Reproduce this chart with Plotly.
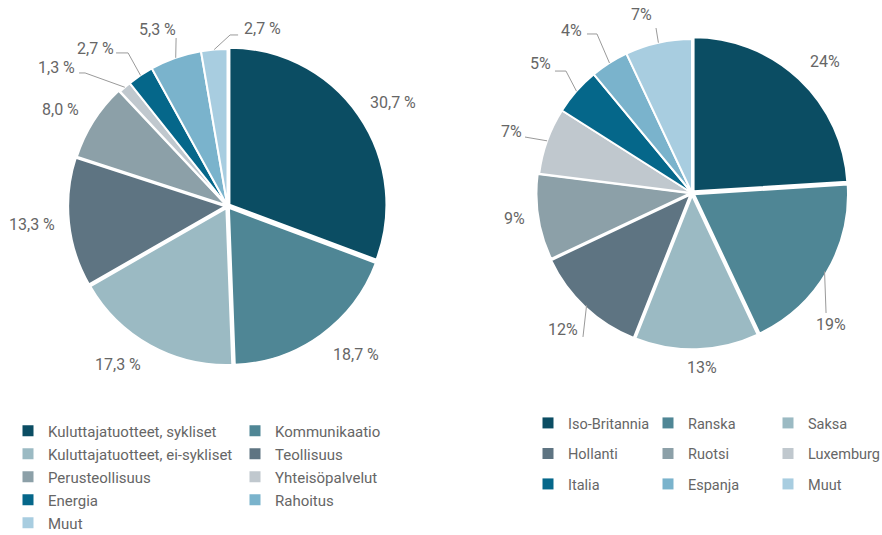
import math
import plotly.graph_objects as go

# ---------------- data ----------------
sectors = ["Kuluttajatuotteet, sykliset", "Kommunikaatio", "Kuluttajatuotteet, ei-sykliset",
           "Teollisuus", "Perusteollisuus", "Yhteisöpalvelut", "Energia", "Rahoitus", "Muut"]
sector_values = [30.7, 18.7, 17.3, 13.3, 8.0, 1.3, 2.7, 5.3, 2.7]

countries = ["Iso-Britannia", "Ranska", "Saksa", "Hollanti", "Ruotsi", "Luxemburg",
             "Italia", "Espanja", "Muut"]
country_values = [24, 19, 13, 12, 9, 7, 5, 4, 7]

colors = ["#0b4d63", "#4f8695", "#9bbac3", "#5e7482", "#8ca0a8", "#c0c8ce",
          "#05678a", "#7ab3cc", "#a8cde0"]

# ---------------- style / layout ----------------
W, H = 882, 535
FONT = "Roboto, Liberation Sans, sans-serif"
TXT = "#666666"
LINE = "#9a9a9a"

# pie geometry in pixels (center x, center y, radius)
LEFT = dict(cx=227.5, cy=206, r=157)
RIGHT = dict(cx=692, cy=193, r=154)
PULL = [0.015, 0.015, 0.015, 0.015, 0.01, 0, 0, 0, 0]

# label placement: (angle nudge in deg, radius factor)
left_lab = [(2.6, 1.245), (-5.2, 1.25), (5.7, 1.23), (0.4, 1.25), (-2.4, 1.225),
            (-10.2, 1.40), (-6.3, 1.31), (-2.4, 1.213), (15.9, 1.155)]
right_lab = [(2.2, 1.212), (12.9, 1.245), (-1.5, 1.132), (0.1, 1.222), (1.0, 1.167),
             (-0.9, 1.242), (-0.9, 1.29), (-4.0, 1.314), (-3.3, 1.208)]
# leader lines: offsets (px) from slice edge point
left_lead = [None, None, None, None, None,
             [(-39.7, -14.3), (-45.7, -14.3)],
             [(-12.4, -22.4), (-24.4, -22.4)],
             [(0.4, -19.8)],
             [(15.9, -14.6), (23.9, -14.6)]]
right_lead = [None, [(1.5, 41.6)], None, [(-3.6, 31.7)], None,
              [(-22.1, -3.8)],
              [(-10.5, -20.1), (-21.5, -20.1)],
              [(-12.5, -29.0), (-22.5, -29.0)],
              [(-2.4, -14.7)]]


def px(x):
    return x / W


def py(y):
    return 1 - y / H


def domain(g):
    half = g["r"] * (1 + max(PULL))
    return dict(x=[px(g["cx"] - half), px(g["cx"] + half)],
                y=[py(g["cy"] + half), py(g["cy"] - half)])


sector_text = [f"{v:.1f}".replace(".", ",") + " %" for v in sector_values]
country_text = [f"{v:.0f}%" for v in country_values]

fig = go.Figure()
for labels, values, geo in [(sectors, sector_values, LEFT), (countries, country_values, RIGHT)]:
    fig.add_trace(go.Pie(
        labels=labels, values=values, textinfo="none", sort=False,
        direction="clockwise", rotation=0, showlegend=False,
        marker=dict(colors=colors, line=dict(color="white", width=2)),
        pull=PULL, domain=domain(geo), hoverinfo="label+percent",
    ))

annotations = []
shapes = []


def add_labels(values, texts, geo, lab, lead):
    total = sum(values)
    cum = 0
    for v, t, (dth, rf), ld in zip(values, texts, lab, lead):
        mid = (cum + v / 2) / total * 360
        cum += v
        th = math.radians(mid + dth)
        lx = geo["cx"] + rf * geo["r"] * math.sin(th)
        ly = geo["cy"] - rf * geo["r"] * math.cos(th)
        annotations.append(dict(x=px(lx), y=py(ly), xref="paper", yref="paper",
                                text=t, showarrow=False, xanchor="center", yanchor="middle",
                                font=dict(family=FONT, size=16, color=TXT)))
        if ld:
            m = math.radians(mid)
            ex = geo["cx"] + geo["r"] * math.sin(m)
            ey = geo["cy"] - geo["r"] * math.cos(m)
            pts = [(ex, ey)] + [(ex + dx, ey + dy) for dx, dy in ld]
            path = "M " + " L ".join(f"{px(a):.5f},{py(b):.5f}" for a, b in pts)
            shapes.append(dict(type="path", path=path, xref="paper", yref="paper",
                               line=dict(color=LINE, width=1)))


add_labels(sector_values, sector_text, LEFT, left_lab, left_lead)
add_labels(country_values, country_text, RIGHT, right_lab, right_lead)

# legends: one legend per entry, laid out on a grid
legend_layout = {}
n = 0
grids = [
    # items, cols, x0, col step, y0, row step, font size
    (sectors, 2, 8, 227, 431, 23, 15),
    (countries, 3, 528, 120, 423, 30.5, 14.5),
]
for items, cols, x0, dxc, y0, dyr, fs in grids:
    for i, name in enumerate(items):
        n += 1
        key = "legend" if n == 1 else f"legend{n}"
        fig.add_trace(go.Scatter(
            x=[None], y=[None], mode="markers", name=name, legend=key,
            marker=dict(symbol="square", size=11, color=colors[i]),
            showlegend=True, hoverinfo="skip",
        ))
        r, c = divmod(i, cols)
        legend_layout[key] = dict(
            x=px(x0 + c * dxc), y=py(y0 + r * dyr), xanchor="left", yanchor="middle",
            orientation="h", bgcolor="rgba(0,0,0,0)", itemclick=False, itemdoubleclick=False,
            font=dict(family=FONT, size=fs, color=TXT), itemsizing="trace",
        )

fig.update_layout(
    width=W, height=H, margin=dict(l=0, r=0, t=0, b=0, autoexpand=False),
    paper_bgcolor="white", plot_bgcolor="white",
    font=dict(family=FONT, color=TXT),
    xaxis=dict(visible=False), yaxis=dict(visible=False),
    annotations=annotations, shapes=shapes,
    **legend_layout,
)
fig.write_html("out.html", config={"displayModeBar": False},
               post_script="document.body.style.margin='0px';document.body.style.overflow='hidden';")
